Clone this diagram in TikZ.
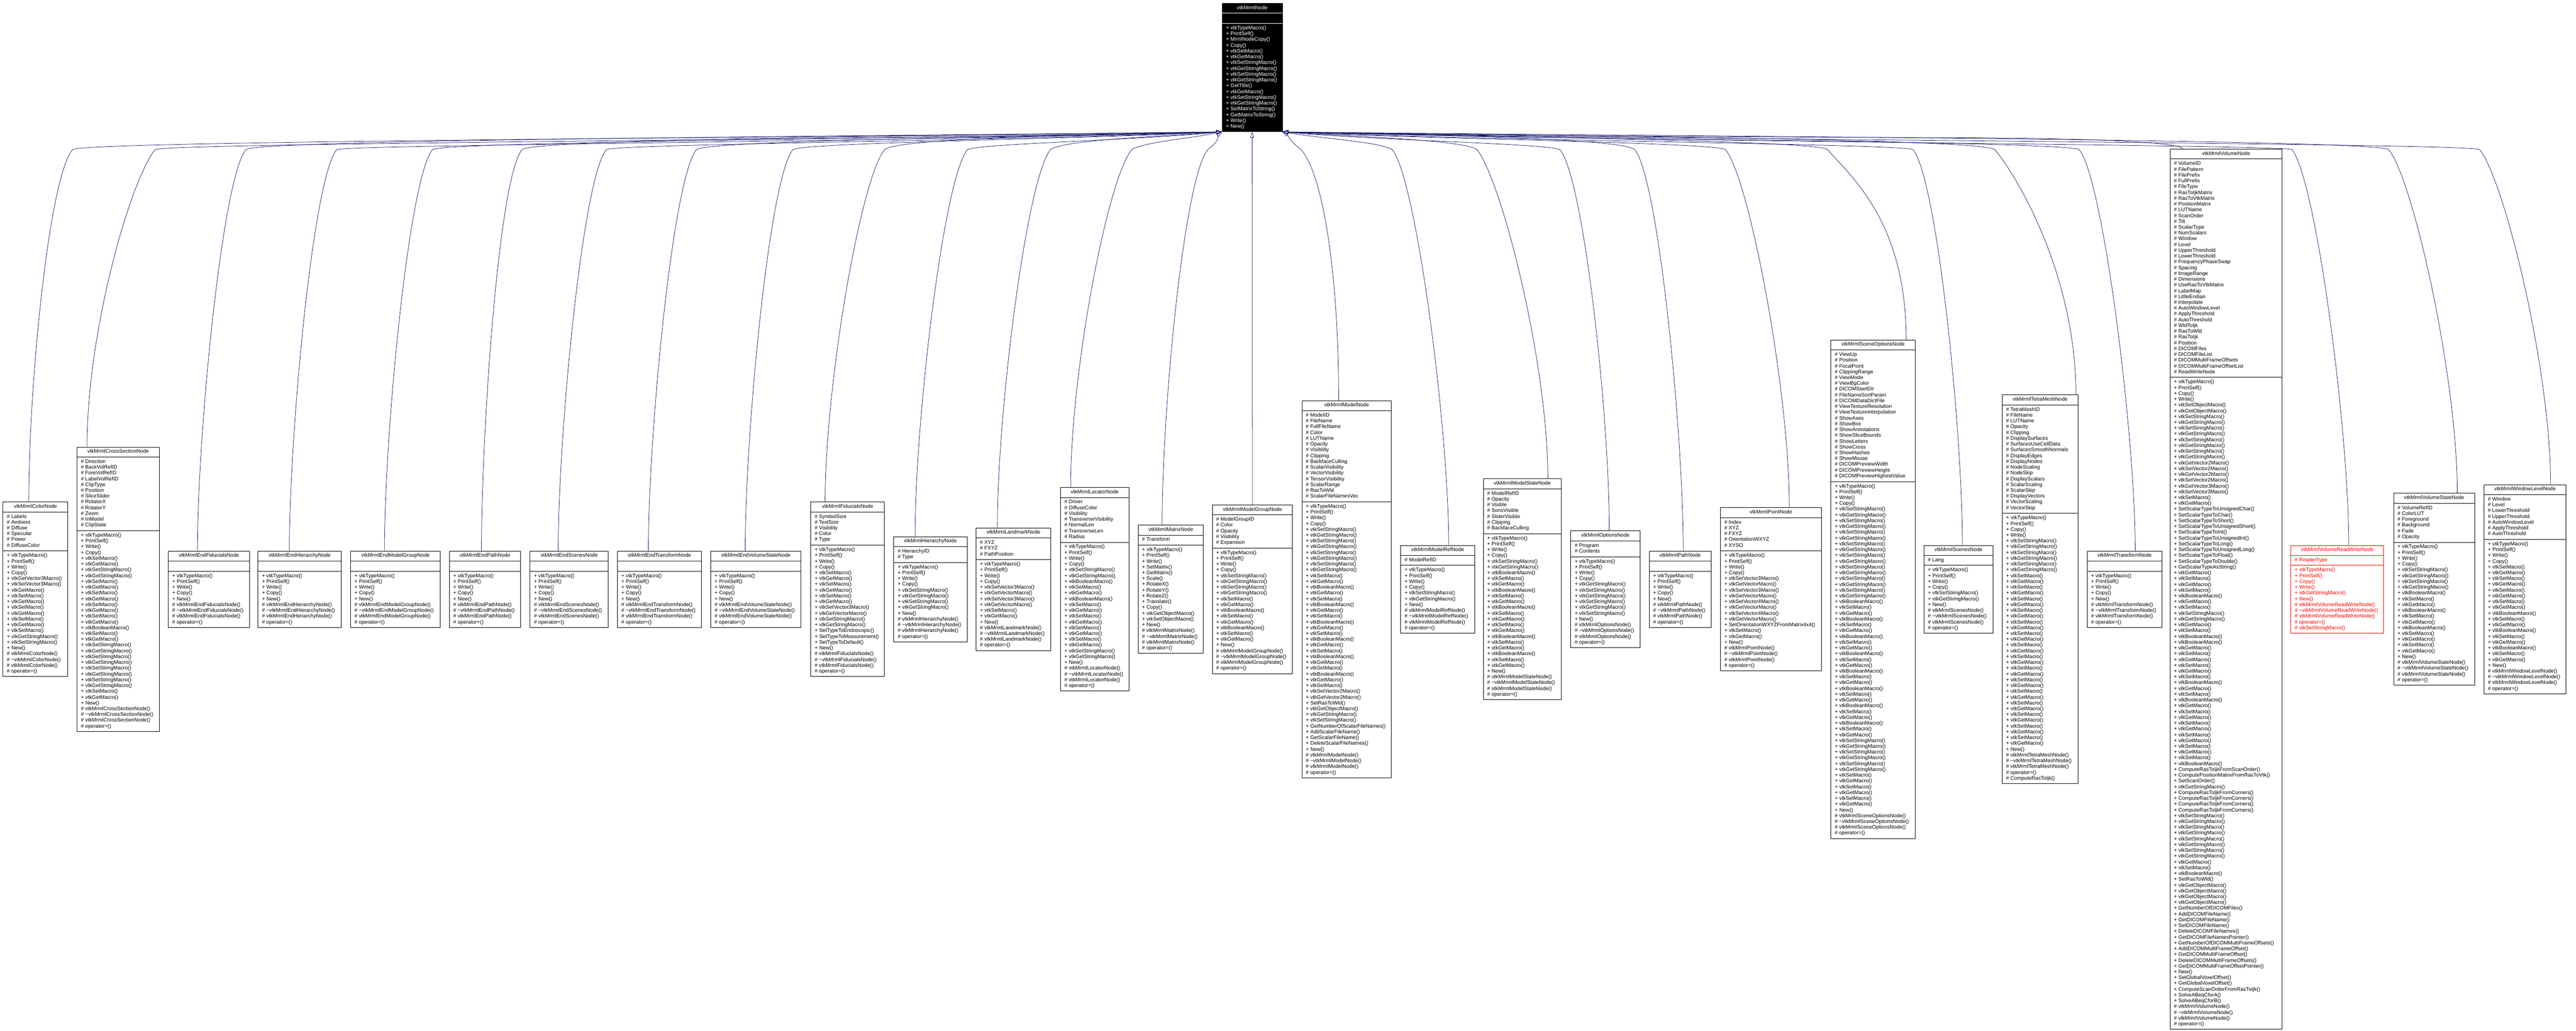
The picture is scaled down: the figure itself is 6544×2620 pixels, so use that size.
\documentclass[tikz,border=0pt]{standalone}
\usepackage{fontspec}
\setmainfont{Liberation Sans}
\usetikzlibrary{arrows.meta}
\definecolor{edgeblue}{HTML}{191970}
\newdimen\umlW
\newcommand\umlfont{\fontsize{13.2}{14.7}\selectfont}
\newcommand\umlL[1]{\hbox to\umlW{\hskip10pt\strut#1\hfil}}
\newcommand\umlT[1]{\hbox to\umlW{\hfil\strut#1\hfil}}
\newcommand\umlE{\umlL{}}
\newcommand\umlRule{\kern5pt\hrule height1pt\kern5pt}
\newcommand\umlBox[4]{\umlW=#1pt\relax\vbox{\kern5pt\umlT{#2}\umlRule#3\umlRule#4\kern5pt}}
\newcommand\umlP[1]{\umlL{+ #1()}}
\newcommand\umlQ[1]{\umlL{\# #1()}}
\newcommand\umlA[1]{\umlL{\# #1}}
\newcommand\uTP{\umlP{vtkTypeMacro}\umlP{PrintSelf}}
\newcommand\uWC{\umlP{Write}\umlP{Copy}}
\newcommand\uCW{\umlP{Copy}\umlP{Write}}
\newcommand\uS{\umlP{vtkSetMacro}}
\newcommand\uG{\umlP{vtkGetMacro}}
\newcommand\uB{\umlP{vtkBooleanMacro}}
\newcommand\uSs{\umlP{vtkSetStringMacro}}
\newcommand\uGs{\umlP{vtkGetStringMacro}}
\newcommand\uNew{\umlP{New}}
\newcommand\uProt[1]{\umlQ{vtkMrml#1}\umlQ{\textasciitilde vtkMrml#1}\umlQ{vtkMrml#1}\umlQ{operator=}}
\newcommand\uEnd[1]{\uTP\uWC\uNew\uProt{#1}}
\newcommand\edgeL[4]{%
  \pgfmathsetmacro\eb{#2+95}%
  \pgfmathsetmacro\ec{3104-0.35*(3104-\eb)}%
  \draw[inh] ([xshift=#3pt]#1.north) .. controls ([xshift=#3pt,yshift=300pt]#1.north) and (\eb-60,450) .. (\eb,380) .. controls (\eb+35,#4+8) and (\ec,#4) .. (mrml.south west);}
\newcommand\edgeR[4]{%
  \pgfmathsetmacro\eb{#2-115}%
  \pgfmathsetmacro\ec{3257+0.35*(\eb-3257)}%
  \draw[inh] ([xshift=#3pt]#1.north) .. controls ([xshift=#3pt,yshift=300pt]#1.north) and (\eb+60,450) .. (\eb,380) .. controls (\eb-35,#4+8) and (\ec,#4) .. (mrml.south east);}
\begin{document}
\begin{tikzpicture}[x=1pt,y=-1pt,
  cls/.style={draw=black,line width=1.2pt,inner sep=0pt,fill=white,font=\umlfont,text=black},
  clstop/.style={cls,fill=black,text=white},
  clsred/.style={cls,draw=red,text=red},
  inh/.style={draw=edgeblue,line width=1pt,-{Triangle[open,length=14pt,width=10pt]}}]
\fill[white] (0,0) rectangle (6544,2620);
\useasboundingbox (0,0) rectangle (6544,2620);

\node[clstop,anchor=north west] (mrml) at (3104,8) {\umlBox{153}{vtkMrmlNode}{\umlE}{\uTP\umlP{MrmlNodeCopy}\umlP{Copy}\uS\uG\uSs\uGs\uSs\uGs\umlP{GetTitle}\uG\uSs\uGs\umlP{SetMatrixToString}\umlP{GetMatrixToString}\umlP{Write}\uNew}};

\node[cls,anchor=west] (color) at (7,1497.5) {\umlBox{165}{vtkMrmlColorNode}{\umlA{Labels}\umlA{Ambient}\umlA{Diffuse}\umlA{Specular}\umlA{Power}\umlA{DiffuseColor}}{\uTP\uWC\umlP{vtkGetVector3Macro}\umlP{vtkSetVector3Macro}\uG\uS\uG\uS\uG\uS\uG\uS\uGs\uSs\uNew\uProt{ColorNode}}};

\node[cls,anchor=west] (cross) at (195,1497.5) {\umlBox{209}{vtkMrmlCrossSectionNode}{\umlA{Direction}\umlA{BackVolRefID}\umlA{ForeVolRefID}\umlA{LabelVolRefID}\umlA{ClipType}\umlA{Position}\umlA{SliceSlider}\umlA{RotatorX}\umlA{RotatorY}\umlA{Zoom}\umlA{InModel}\umlA{ClipState}}{\uTP\uWC\uS\uG\uSs\uGs\uS\uG\uS\uG\uS\uG\uS\uG\uB\uS\uG\uSs\uGs\uSs\uGs\uSs\uGs\uSs\uGs\uS\uG\uNew\uProt{CrossSectionNode}}};

\node[cls,anchor=west] (endfid) at (427,1497.5) {\umlBox{206}{vtkMrmlEndFiducialsNode}{\umlE}{\uEnd{EndFiducialsNode}}};
\node[cls,anchor=west] (endhier) at (655,1497.5) {\umlBox{211}{vtkMrmlEndHierarchyNode}{\umlE}{\uEnd{EndHierarchyNode}}};
\node[cls,anchor=west] (endmg) at (890,1497.5) {\umlBox{228}{vtkMrmlEndModelGroupNode}{\umlE}{\uEnd{EndModelGroupNode}}};
\node[cls,anchor=west] (endpath) at (1141,1497.5) {\umlBox{181}{vtkMrmlEndPathNode}{\umlE}{\uEnd{EndPathNode}}};
\node[cls,anchor=west] (endscenes) at (1346,1497.5) {\umlBox{199}{vtkMrmlEndScenesNode}{\umlE}{\uEnd{EndScenesNode}}};
\node[cls,anchor=west] (endtrans) at (1568,1497.5) {\umlBox{213}{vtkMrmlEndTransformNode}{\umlE}{\uEnd{EndTransformNode}}};
\node[cls,anchor=west] (endvs) at (1805,1497.5) {\umlBox{229}{vtkMrmlEndVolumeStateNode}{\umlE}{\uEnd{EndVolumeStateNode}}};

\node[cls,anchor=west] (fid) at (2059,1497.5) {\umlBox{187}{vtkMrmlFiducialsNode}{\umlA{SymbolSize}\umlA{TextSize}\umlA{Visibility}\umlA{Color}\umlA{Type}}{\uTP\uWC\uS\uG\uS\uG\uS\uG\umlP{vtkSetVector3Macro}\umlP{vtkGetVectorMacro}\uSs\uGs\umlP{SetTypeToEndoscopic}\umlP{SetTypeToMeasurement}\umlP{SetTypeToDefault}\uNew\uProt{FiducialsNode}}};

\node[cls,anchor=west] (hier) at (2270,1497.5) {\umlBox{186}{vtkMrmlHierarchyNode}{\umlA{HierarchyID}\umlA{Type}}{\uTP\uWC\uSs\uGs\uSs\uGs\uNew\uProt{HierarchyNode}}};

\node[cls,anchor=west] (land) at (2479,1497.5) {\umlBox{190}{vtkMrmlLandmarkNode}{\umlA{XYZ}\umlA{FXYZ}\umlA{PathPosition}}{\uTP\uWC\umlP{vtkSetVector3Macro}\umlP{vtkGetVectorMacro}\umlP{vtkSetVector3Macro}\umlP{vtkGetVectorMacro}\uS\uG\uNew\uProt{LandmarkNode}}};

\node[cls,anchor=west] (loc) at (2693.5,1497.5) {\umlBox{173.5}{vtkMrmlLocatorNode}{\umlA{Driver}\umlA{DiffuseColor}\umlA{Visibility}\umlA{TransverseVisibility}\umlA{NormalLen}\umlA{TransverseLen}\umlA{Radius}}{\uTP\uWC\uSs\uGs\uB\uS\uG\uB\uS\uG\uS\uG\uS\uG\uS\uG\uSs\uGs\uNew\uProt{LocatorNode}}};

\node[cls,anchor=west] (matrix) at (2890.6,1497.5) {\umlBox{166}{vtkMrmlMatrixNode}{\umlA{Transform}}{\uTP\umlP{Write}\umlP{SetMatrix}\umlP{GetMatrix}\umlP{Scale}\umlP{RotateX}\umlP{RotateY}\umlP{RotateZ}\umlP{Translate}\umlP{Copy}\umlP{vtkGetObjectMacro}\umlP{vtkSetObjectMacro}\uNew\uProt{MatrixNode}}};

\node[cls,anchor=west] (mgroup) at (3079,1497.5) {\umlBox{204}{vtkMrmlModelGroupNode}{\umlA{ModelGroupID}\umlA{Color}\umlA{Opacity}\umlA{Visibility}\umlA{Expansion}}{\uTP\uWC\uSs\uGs\uSs\uGs\uS\uG\uB\uS\uG\uB\uS\uG\uNew\uProt{ModelGroupNode}}};

\node[cls,anchor=west] (model) at (3306.7,1497.5) {\umlBox{227}{vtkMrmlModelNode}{\umlA{ModelID}\umlA{FileName}\umlA{FullFileName}\umlA{Color}\umlA{LUTName}\umlA{Opacity}\umlA{Visibility}\umlA{Clipping}\umlA{BackfaceCulling}\umlA{ScalarVisibility}\umlA{VectorVisibility}\umlA{TensorVisibility}\umlA{ScalarRange}\umlA{RasToWld}\umlA{ScalarFileNamesVec}}{\uTP\uWC\uSs\uGs\uSs\uGs\uSs\uGs\uSs\uGs\uS\uG\uB\uG\uS\uB\uG\uS\uB\uG\uS\uB\uG\uS\uB\uG\uS\uB\uG\uS\umlP{vtkSetVector2Macro}\umlP{vtkGetVector2Macro}\umlP{SetRasToWld}\umlP{vtkGetObjectMacro}\uGs\uSs\umlP{GetNumberOfScalarFileNames}\umlP{AddScalarFileName}\umlP{GetScalarFileName}\umlP{DeleteScalarFileNames}\uNew\uProt{ModelNode}}};

\node[cls,anchor=west] (mref) at (3557.6,1497.5) {\umlBox{188}{vtkMrmlModelRefNode}{\umlA{ModelRefID}}{\uTP\uWC\uSs\uGs\uNew\uProt{ModelRefNode}}};

\node[cls,anchor=west] (mstate) at (3767.5,1497.5) {\umlBox{198}{vtkMrmlModelStateNode}{\umlA{ModelRefID}\umlA{Opacity}\umlA{Visible}\umlA{SonsVisible}\umlA{SliderVisible}\umlA{Clipping}\umlA{BackfaceCulling}}{\uTP\uWC\uSs\uGs\uB\uS\uG\uB\uS\uG\uB\uS\uG\uS\uG\uB\uS\uG\uB\uS\uG\uNew\uProt{ModelStateNode}}};

\node[cls,anchor=west] (options) at (3989.7,1497.5) {\umlBox{175.6}{vtkMrmlOptionsNode}{\umlA{Program}\umlA{Contents}}{\uTP\uWC\uGs\uSs\uGs\uSs\uGs\uSs\uNew\uProt{OptionsNode}}};

\node[cls,anchor=west] (path) at (4189,1497.5) {\umlBox{157}{vtkMrmlPathNode}{\umlE}{\uEnd{PathNode}}};

\node[cls,anchor=west] (point) at (4370,1497.5) {\umlBox{256}{vtkMrmlPointNode}{\umlA{Index}\umlA{XYZ}\umlA{FXYZ}\umlA{OrientationWXYZ}\umlA{XYSO}}{\uTP\uWC\umlP{vtkSetVector3Macro}\umlP{vtkGetVectorMacro}\umlP{vtkSetVector3Macro}\umlP{vtkGetVectorMacro}\umlP{vtkSetVector4Macro}\umlP{vtkGetVectorMacro}\umlP{vtkSetVector4Macro}\umlP{vtkGetVectorMacro}\umlP{SetOrientationWXYZFromMatrix4x4}\uS\uG\uNew\uProt{PointNode}}};

\node[cls,anchor=west] (sceneopt) at (4650.5,1497.5) {\umlBox{214.5}{vtkMrmlSceneOptionsNode}{\umlA{ViewUp}\umlA{Position}\umlA{FocalPoint}\umlA{ClippingRange}\umlA{ViewMode}\umlA{ViewBgColor}\umlA{DICOMStartDir}\umlA{FileNameSortParam}\umlA{DICOMDataDictFile}\umlA{ViewTextureResolution}\umlA{ViewTextureInterpolation}\umlA{ShowAxes}\umlA{ShowBox}\umlA{ShowAnnotations}\umlA{ShowSliceBounds}\umlA{ShowLetters}\umlA{ShowCross}\umlA{ShowHashes}\umlA{ShowMouse}\umlA{DICOMPreviewWidth}\umlA{DICOMPreviewHeight}\umlA{DICOMPreviewHighestValue}}{\uTP\uWC\uSs\uGs\uSs\uGs\uSs\uGs\uSs\uGs\uSs\uGs\uSs\uGs\uSs\uGs\uSs\uGs\uB\uS\uG\uB\uS\uG\uB\uS\uG\uB\uS\uG\uB\uS\uG\uB\uS\uG\uB\uS\uG\uB\uS\uG\uSs\uGs\uSs\uGs\uSs\uGs\uS\uG\uS\uG\uS\uG\uNew\uProt{SceneOptionsNode}}};

\node[cls,anchor=west] (scenes) at (4887,1497.5) {\umlBox{175}{vtkMrmlScenesNode}{\umlA{Lang}}{\uTP\uWC\uSs\uGs\uNew\uProt{ScenesNode}}};

\node[cls,anchor=west] (tetra) at (5085.6,1497.5) {\umlBox{192.7}{vtkMrmlTetraMeshNode}{\umlA{TetraMeshID}\umlA{FileName}\umlA{LUTName}\umlA{Opacity}\umlA{Clipping}\umlA{DisplaySurfaces}\umlA{SurfacesUseCellData}\umlA{SurfacesSmoothNormals}\umlA{DisplayEdges}\umlA{DisplayNodes}\umlA{NodeScaling}\umlA{NodeSkip}\umlA{DisplayScalars}\umlA{ScalarScaling}\umlA{ScalarSkip}\umlA{DisplayVectors}\umlA{VectorScaling}\umlA{VectorSkip}}{\uTP\uCW\uSs\uGs\uSs\uGs\uSs\uGs\uS\uG\uS\uG\uS\uG\uS\uG\uS\uG\uS\uG\uS\uG\uS\uG\uS\uG\uS\uG\uS\uG\uS\uG\uS\uG\uS\uG\uS\uG\uNew\uProt{TetraMeshNode}\umlQ{ComputeRasToIjk}}};

\node[cls,anchor=west] (transform) at (5301.6,1497.5) {\umlBox{190}{vtkMrmlTransformNode}{\umlE}{\uEnd{TransformNode}}};

\node[cls,anchor=west] (vol) at (5512,1497.5) {\umlBox{285}{vtkMrmlVolumeNode}{\umlA{VolumeID}\umlA{FilePattern}\umlA{FilePrefix}\umlA{FullPrefix}\umlA{FileType}\umlA{RasToIjkMatrix}\umlA{RasToVtkMatrix}\umlA{PositionMatrix}\umlA{LUTName}\umlA{ScanOrder}\umlA{Tilt}\umlA{ScalarType}\umlA{NumScalars}\umlA{Window}\umlA{Level}\umlA{UpperThreshold}\umlA{LowerThreshold}\umlA{FrequencyPhaseSwap}\umlA{Spacing}\umlA{ImageRange}\umlA{Dimensions}\umlA{UseRasToVtkMatrix}\umlA{LabelMap}\umlA{LittleEndian}\umlA{Interpolate}\umlA{AutoWindowLevel}\umlA{ApplyThreshold}\umlA{AutoThreshold}\umlA{WldToIjk}\umlA{RasToWld}\umlA{RasToIjk}\umlA{Position}\umlA{DICOMFiles}\umlA{DICOMFileList}\umlA{DICOMMultiFrameOffsets}\umlA{DICOMMultiFrameOffsetList}\umlA{ReadWriteNode}}{\uTP\uCW\umlP{vtkSetObjectMacro}\umlP{vtkGetObjectMacro}\uSs\uGs\uSs\uGs\uSs\uGs\uSs\uGs\umlP{vtkGetVector2Macro}\umlP{vtkSetVector2Macro}\umlP{vtkGetVector2Macro}\umlP{vtkSetVector2Macro}\umlP{vtkGetVector3Macro}\umlP{vtkSetVector3Macro}\uS\uG\umlP{SetScalarTypeToUnsignedChar}\umlP{SetScalarTypeToChar}\umlP{SetScalarTypeToShort}\umlP{SetScalarTypeToUnsignedShort}\umlP{SetScalarTypeToInt}\umlP{SetScalarTypeToUnsignedInt}\umlP{SetScalarTypeToLong}\umlP{SetScalarTypeToUnsignedLong}\umlP{SetScalarTypeToFloat}\umlP{SetScalarTypeToDouble}\umlP{GetScalarTypeAsString}\uG\uS\uG\uS\uB\uG\uS\uSs\uGs\uG\uS\uB\uB\uG\uS\uG\uS\uG\uS\uB\uG\uS\uB\uG\uS\uG\uS\uG\uS\uG\uS\uG\uS\uB\umlP{ComputeRasToIjkFromScanOrder}\umlP{ComputePositionMatrixFromRasToVtk}\umlP{SetScanOrder}\uGs\umlP{ComputeRasToIjkFromCorners}\umlP{ComputeRasToIjkFromCorners}\umlP{ComputeRasToIjkFromCorners}\umlP{ComputeRasToIjkFromCorners}\uSs\uGs\uSs\uGs\uSs\uGs\uSs\uGs\uG\uS\uB\umlP{SetRasToWld}\umlP{vtkGetObjectMacro}\umlP{vtkGetObjectMacro}\umlP{vtkGetObjectMacro}\umlP{vtkGetObjectMacro}\umlP{GetNumberOfDICOMFiles}\umlP{AddDICOMFileName}\umlP{GetDICOMFileName}\umlP{SetDICOMFileName}\umlP{DeleteDICOMFileNames}\umlP{GetDICOMFileNamesPointer}\umlP{GetNumberOfDICOMMultiFrameOffsets}\umlP{AddDICOMMultiFrameOffset}\umlP{GetDICOMMultiFrameOffset}\umlP{DeleteDICOMMultiFrameOffsets}\umlP{GetDICOMMultiFrameOffsetPointer}\uNew\umlP{SetGlobalVoxelOffset}\umlP{GetGlobalVoxelOffset}\umlP{ComputeScanOrderFromRasToIjk}\umlP{SolveABeqCforA}\umlP{SolveABeqCforB}\uProt{VolumeNode}}};

\node[clsred,anchor=west] (rw) at (5819,1497.5) {\umlBox{236}{vtkMrmlVolumeReadWriteNode}{\umlA{ReaderType}}{\uTP\uCW\uGs\uNew\uProt{VolumeReadWriteNode}\umlQ{vtkSetStringMacro}}};

\node[cls,anchor=west] (vstate) at (6080,1497.5) {\umlBox{205.6}{vtkMrmlVolumeStateNode}{\umlA{VolumeRefID}\umlA{ColorLUT}\umlA{Foreground}\umlA{Background}\umlA{Fade}\umlA{Opacity}}{\uTP\uWC\uSs\uGs\uSs\uGs\uB\uS\uG\uB\uS\uG\uB\uS\uG\uS\uG\uNew\uProt{VolumeStateNode}}};

\node[cls,anchor=west] (wlevel) at (6309.6,1497.5) {\umlBox{208.4}{vtkMrmlWindowLevelNode}{\umlA{Window}\umlA{Level}\umlA{LowerThreshold}\umlA{UpperThreshold}\umlA{AutoWindowLevel}\umlA{ApplyThreshold}\umlA{AutoThreshold}}{\uTP\uWC\uS\uG\uS\uG\uS\uG\uS\uG\uB\uS\uG\uB\uS\uG\uB\uS\uG\uNew\uProt{WindowLevelNode}}};

\edgeL{color}{89.5}{-17}{350}
\edgeL{cross}{299.5}{-79}{356}
\edgeL{endfid}{530}{-29}{346}
\edgeL{endhier}{760.5}{-26}{360}
\edgeL{endmg}{1004}{-28}{352}
\edgeL{endpath}{1231.5}{-9}{344}
\edgeL{endscenes}{1445.5}{-28}{358}
\edgeL{endtrans}{1674.5}{-28}{348}
\edgeL{endvs}{1919.5}{-27}{354}
\edgeL{fid}{2152.5}{-57}{342}
\edgeL{hier}{2363}{-39}{357}
\edgeL{land}{2574}{-41}{347}
\edgeL{loc}{2780.25}{-61}{352}
\edgeL{matrix}{2973.6}{-22}{345}
\draw[inh] (mgroup.north) -- (mrml.south);
\edgeR{model}{3420.2}{-20}{345}
\edgeR{mref}{3651.6}{28}{352}
\edgeR{mstate}{3866.5}{65}{347}
\edgeR{options}{4077.5}{10}{357}
\edgeR{path}{4267.5}{8}{342}
\edgeR{point}{4498}{47}{354}
\edgeR{sceneopt}{4757.75}{84}{348}
\edgeR{scenes}{4974.5}{10}{358}
\edgeR{tetra}{5181.95}{91}{344}
\edgeR{transform}{5396.6}{27}{352}
\draw[inh] ([xshift=-110pt]vol.north) .. controls (5535,360) and (5300,352) .. (5000,350) .. controls (4200,348) and (3500,340) .. (mrml.south east);
\edgeR{rw}{5937}{29}{360}
\edgeR{vstate}{6182.8}{59}{346}
\edgeR{wlevel}{6413.8}{65}{356}
\end{tikzpicture}
\end{document}
